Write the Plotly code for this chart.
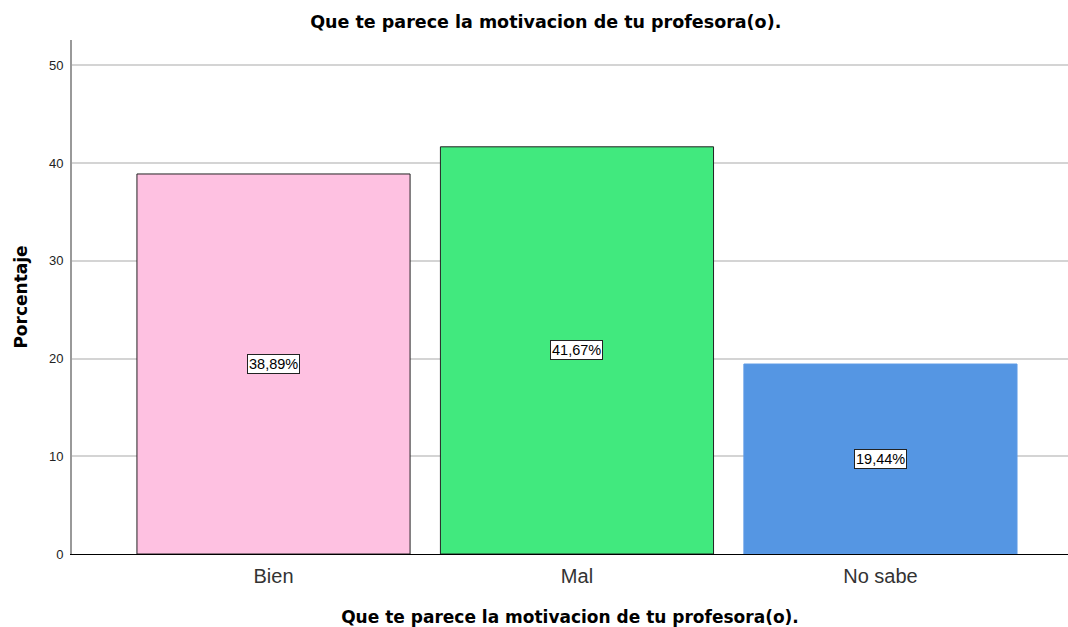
import plotly.graph_objects as go

categories = ["Bien", "Mal", "No sabe"]
values = [38.89, 41.67, 19.44]
labels = ["38,89%", "41,67%", "19,44%"]
colors = ["#FEC1E1", "#41E97E", "#5596E3"]
outline = ["#222222", "#222222", "#5E9BE6"]
title_text = "Que te parece la motivacion de tu profesora(o)."

fig = go.Figure()
fig.add_trace(go.Bar(
    x=[0, 1, 2], y=values, width=0.9,
    marker=dict(color=colors, line=dict(color=outline, width=1)),
    hoverinfo="skip",
))

for i, (v, lab) in enumerate(zip(values, labels)):
    fig.add_annotation(x=i, y=v / 2, text=lab, showarrow=False,
                       bgcolor="white", bordercolor="#222222", borderwidth=1,
                       borderpad=1, font=dict(family="Liberation Sans", size=14.5, color="black"))

fig.update_layout(
    width=1068, height=627,
    margin=dict(l=72, r=0, t=40, b=73),
    plot_bgcolor="white", paper_bgcolor="white",
    showlegend=False,
    title=dict(text="<b>" + title_text + "</b>", x=0.511, xanchor="center", y=0.965, yanchor="middle",
               font=dict(family="DejaVu Sans", size=17.5, color="black")),
    xaxis=dict(
        tickmode="array", tickvals=[0, 1, 2], ticktext=categories,
        range=[-0.664, 2.618], showgrid=False, zeroline=False,
        showline=True, linecolor="black", linewidth=1, ticks="",
        ticklabelstandoff=4,
        tickfont=dict(family="Liberation Sans", size=20, color="#333333"),
        title=dict(text="<b>" + title_text + "</b>", standoff=25,
                   font=dict(family="DejaVu Sans", size=17, color="black")),
    ),
    yaxis=dict(
        range=[0, 52.6], tickvals=[0, 10, 20, 30, 40, 50],
        showgrid=True, gridcolor="#D4D4D4", gridwidth=2, zeroline=False,
        showline=True, linecolor="#999999", linewidth=2,
        ticks="", ticklabelstandoff=4,
        tickfont=dict(family="Liberation Sans", size=13, color="#222222"),
        title=dict(text="<b>Porcentaje</b>", standoff=17,
                   font=dict(family="DejaVu Sans", size=17, color="black")),
    ),
)

fig.write_html("out.html", config={"displayModeBar": False},
               post_script="document.body.style.margin='0';document.body.style.overflow='hidden';")
